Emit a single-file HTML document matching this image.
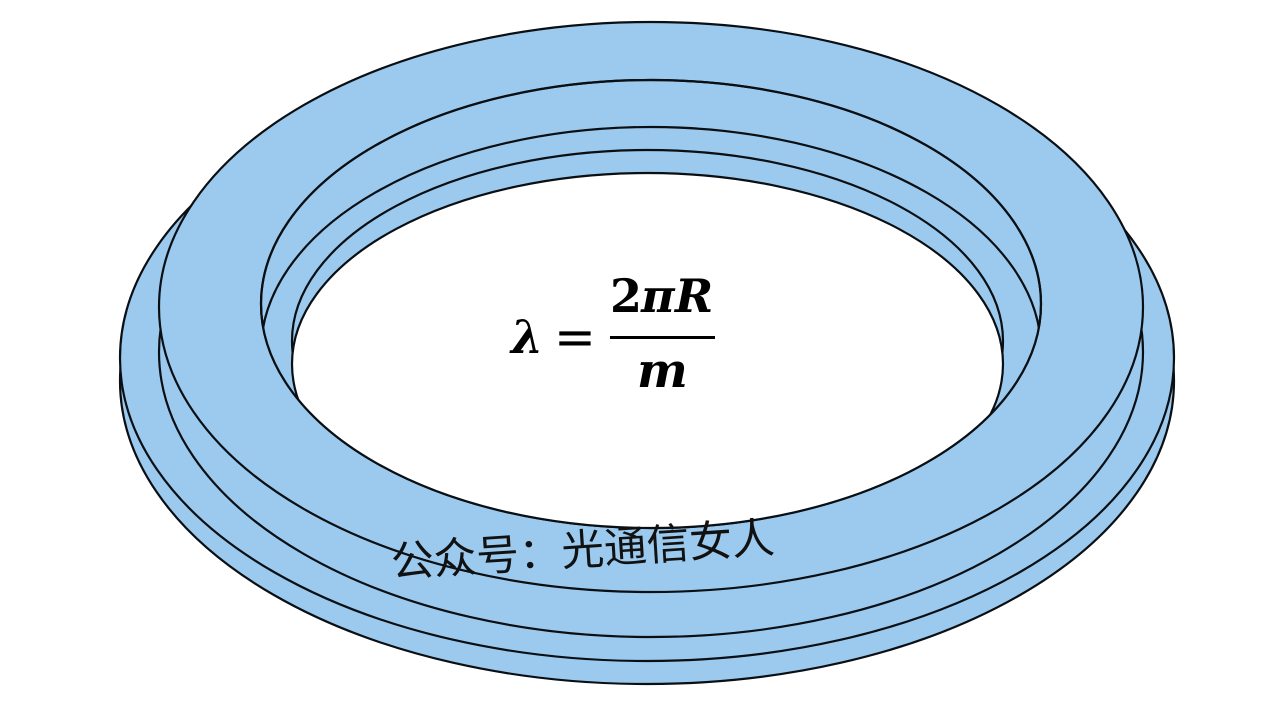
<!DOCTYPE html>
<html><head><meta charset="utf-8">
<style>html,body{margin:0;padding:0;background:#fff;width:1268px;height:714px;overflow:hidden}svg{display:block}</style>
</head><body>
<svg width="1268" height="714" viewBox="0 0 1268 714" xmlns="http://www.w3.org/2000/svg">
<defs><clipPath id="c"><ellipse cx="651" cy="304" rx="390" ry="224"/></clipPath></defs>
<g fill="#9ccaee" stroke="#0a0f14" stroke-width="2.2">
<ellipse cx="647" cy="381" rx="527" ry="303"/>
<ellipse cx="647" cy="358" rx="527" ry="303"/>
<ellipse cx="651" cy="352" rx="492" ry="285"/>
<ellipse cx="651" cy="307" rx="492" ry="285"/>
<ellipse cx="651" cy="304" rx="390" ry="224"/>
<g clip-path="url(#c)">
<ellipse cx="651" cy="351" rx="390" ry="224"/>
<ellipse cx="647.5" cy="341" rx="355.5" ry="191"/>
<ellipse cx="647.5" cy="364" rx="355.5" ry="191" fill="#fff"/>
</g>
<ellipse cx="651" cy="304" rx="390" ry="224" fill="none"/>
</g>
<g font-family="'DejaVu Serif','Liberation Serif',serif" font-weight="bold" fill="#000">
<text x="511" y="353" font-size="46" font-style="italic">λ</text>
<text x="610" y="312" font-size="46">2</text>
<text x="641" y="312" font-size="46" font-style="italic">π</text>
<text x="675" y="312" font-size="46" font-style="italic">R</text>
<text x="637" y="387" font-size="48" font-style="italic">m</text>
</g>
<text x="554" y="354" font-family="'DejaVu Sans',sans-serif" font-size="50" fill="#000">=</text>
<rect x="610" y="336" width="105" height="3" fill="#000"/>
<text transform="translate(392,577) rotate(-3.7)" font-family="'Liberation Sans','Noto Sans CJK SC',sans-serif" font-size="42.7" fill="#111">公众号：光通信女人</text>
</svg>
</body></html>
